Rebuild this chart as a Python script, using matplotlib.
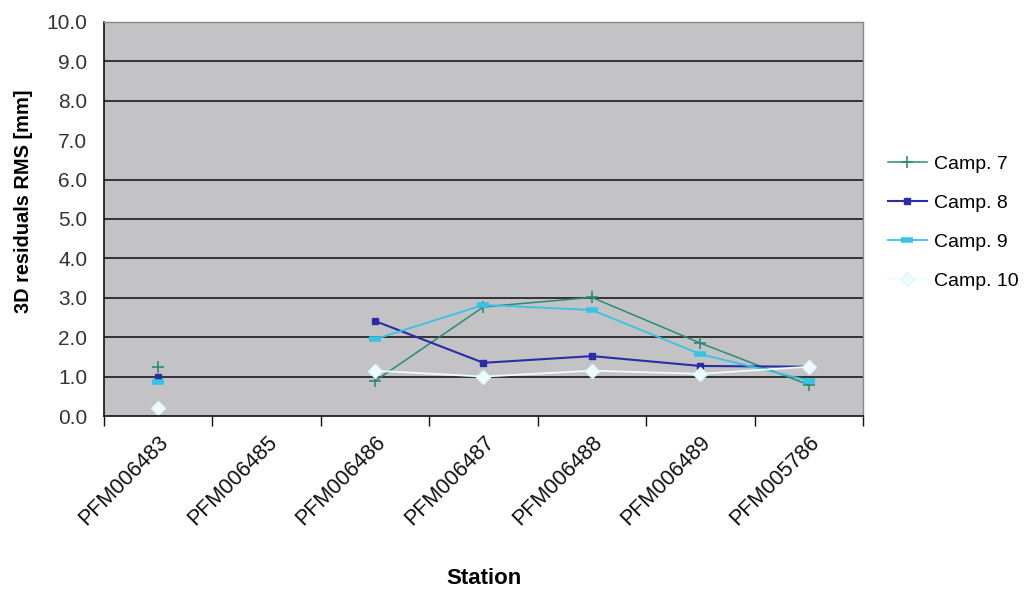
import numpy as np
import matplotlib
matplotlib.use("Agg")
from matplotlib import pyplot as plt
from matplotlib.ticker import FixedLocator

plt.rcParams["font.family"] = ["Liberation Sans", "DejaVu Sans"]

stations = ["PFM006483", "PFM006485", "PFM006486", "PFM006487",
            "PFM006488", "PFM006489", "PFM005786"]
camp7 = [1.24, np.nan, 0.89, 2.77, 3.01, 1.85, 0.79]
camp8 = [1.00, np.nan, 2.41, 1.35, 1.52, 1.27, 1.25]
camp9 = [0.86, np.nan, 1.95, 2.82, 2.69, 1.57, 0.90]
camp10 = [0.20, np.nan, 1.15, 1.00, 1.15, 1.07, 1.25]
y_ticks = [0, 1, 2, 3, 4, 5, 6, 7, 8, 9, 10]
grid_vals = [1, 2, 3, 4, 5, 6, 8, 9]   # the 7.0 line is absent in the original

fig = plt.figure(figsize=(10.33, 5.91), dpi=100)
ax = fig.add_axes([0.1007, 0.2961, 0.7347, 0.6667])
ax.set_facecolor("#c3c3c5")

x = np.arange(len(stations))
ax.plot(x, camp7, color="#2b8a78", lw=1.1, marker="+", ms=8, mew=1.2, label="Camp. 7")
ax.plot(x, camp8, color="#2c2ca6", lw=1.5, marker="s", ms=4, label="Camp. 8")
ax.plot(x, camp9, color="#35c3e6", lw=1.3, marker="_", ms=9, mew=4, label="Camp. 9")
ax.plot(x, camp10, color="#eefcff", lw=1.3, marker="D", ms=7, mec="#dff6fb", label="Camp. 10")

for g in grid_vals:
    ax.axhline(g, color="#1a1a1a", lw=1.2, zorder=1)

ax.set_xlim(-0.5, len(stations) - 0.5)
ax.set_ylim(0, 10)

ax.set_yticks(y_ticks)
ax.set_yticklabels([f"{v:.1f}" for v in y_ticks], fontsize=15, color="#333333")
ax.yaxis.set_minor_locator(FixedLocator([v for v in y_ticks if v != 7]))
ax.tick_params(axis="y", which="major", length=0, pad=12)
ax.tick_params(axis="y", which="minor", length=6, width=1, color="#111111", direction="out")

ax.set_xticks(x)
ax.set_xticklabels(stations, rotation=45, ha="right", rotation_mode="anchor",
                   fontsize=15.5, color="#111111")
ax.xaxis.set_minor_locator(FixedLocator(np.arange(len(stations) + 1) - 0.5))
ax.tick_params(axis="x", which="major", length=0, pad=11)
ax.tick_params(axis="x", which="minor", length=7, width=1, color="#111111", direction="out")

for side in ["left", "bottom"]:
    ax.spines[side].set_color("#111111")
    ax.spines[side].set_linewidth(1.2)
for side in ["top", "right"]:
    ax.spines[side].set_color("#8a8a8a")
    ax.spines[side].set_linewidth(1.0)

ax.set_ylabel("3D residuals RMS [mm]", fontsize=14.4, fontweight="bold")
ax.yaxis.set_label_coords(-0.0935, 0.546)
ax.set_xlabel("Station", fontsize=16, fontweight="bold")
ax.xaxis.set_label_coords(0.5, -0.386)

fig.legend(loc="center left", bbox_to_anchor=(0.85, 0.6236), frameon=False,
           borderpad=0, fontsize=14, handlelength=2.0, handletextpad=0.4,
           labelspacing=1.1)

fig.savefig("out.png", dpi=100)
